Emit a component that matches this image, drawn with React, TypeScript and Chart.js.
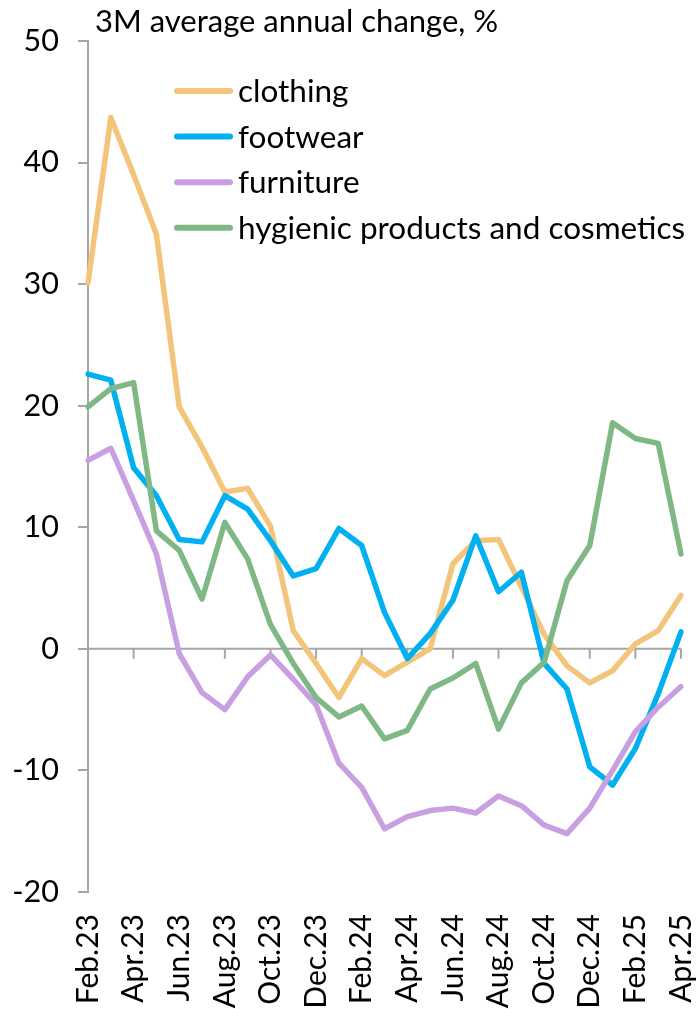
import React, { useEffect, useRef } from 'react';
import { Chart, registerables } from 'chart.js';

Chart.register(...registerables);

const months = [
  'Feb.23', 'Mar.23', 'Apr.23', 'May.23', 'Jun.23', 'Jul.23', 'Aug.23', 'Sep.23', 'Oct.23', 'Nov.23', 'Dec.23',
  'Jan.24', 'Feb.24', 'Mar.24', 'Apr.24', 'May.24', 'Jun.24', 'Jul.24', 'Aug.24', 'Sep.24', 'Oct.24', 'Nov.24', 'Dec.24',
  'Jan.25', 'Feb.25', 'Mar.25', 'Apr.25',
];

const seriesNames = ['clothing', 'footwear', 'furniture', 'hygienic products and cosmetics'];

const clothing = [30.1, 43.7, 39.0, 34.1, 19.9, 16.6, 12.9, 13.2, 10.1, 1.5, -1.2, -4.0, -0.8, -2.2, -1.1, 0.0, 7.0, 8.9, 9.0, 5.1, 1.2, -1.4, -2.8, -1.8, 0.4, 1.5, 4.4];
const footwear = [22.6, 22.1, 14.9, 12.6, 9.0, 8.8, 12.6, 11.5, 8.9, 6.0, 6.6, 9.9, 8.5, 3.0, -0.8, 1.25, 4.0, 9.3, 4.7, 6.3, -1.2, -3.3, -9.7, -11.2, -8.2, -3.7, 1.4];
const furniture = [15.5, 16.5, 12.2, 7.8, -0.4, -3.6, -5.0, -2.3, -0.5, -2.5, -4.6, -9.4, -11.4, -14.8, -13.8, -13.3, -13.1, -13.5, -12.1, -12.9, -14.5, -15.2, -13.1, -10.0, -6.8, -4.8, -3.1];
const hygienic = [19.9, 21.4, 21.9, 9.7, 8.1, 4.1, 10.4, 7.4, 2.0, -1.2, -4.0, -5.6, -4.7, -7.4, -6.7, -3.3, -2.4, -1.2, -6.6, -2.8, -1.1, 5.6, 8.5, 18.6, 17.3, 16.9, 7.8];

const yMin = -20;
const yMax = 50;
const yStep = 10;

const titleText = '3M average annual change, %';

const colors = ['rgb(242,197,122)', 'rgb(0,176,240)', 'rgb(200,160,226)', 'rgb(127,183,133)'];
const FONT = "Lato, 'Open Sans', sans-serif";
const AXIS_GRAY = '#A6A6A6';

export default function App() {
  const ref = useRef<HTMLCanvasElement>(null);

  useEffect(() => {
    document.body.style.margin = '0';
    document.body.style.overflow = 'hidden';
    const values = [clothing, footwear, furniture, hygienic];

    const overlay = {
      id: 'overlay',
      beforeDatasetsDraw(chart: any) {
        const { ctx, chartArea, scales } = chart;
        const y0 = scales.y.getPixelForValue(0);
        ctx.save();
        ctx.strokeStyle = AXIS_GRAY;
        ctx.lineWidth = 2;
        ctx.beginPath();
        ctx.moveTo(chartArea.left, y0);
        ctx.lineTo(chartArea.right, y0);
        for (let i = 0; i < months.length; i += 2) {
          const x = scales.x.getPixelForValue(i);
          ctx.moveTo(x, y0);
          ctx.lineTo(x, y0 + 10);
        }
        ctx.stroke();
        ctx.restore();
      },
      afterDraw(chart: any) {
        const { ctx } = chart;
        ctx.save();
        ctx.fillStyle = '#000';
        ctx.textBaseline = 'middle';
        ctx.textAlign = 'left';
        ctx.font = `31px ${FONT}`;
        ctx.fillText(titleText, 95, 22);
        ctx.font = `31.5px ${FONT}`;
        seriesNames.forEach((name, k) => {
          const y = 91 + k * 45.6;
          ctx.strokeStyle = colors[k];
          ctx.lineWidth = 6;
          ctx.lineCap = 'round';
          ctx.beginPath();
          ctx.moveTo(177, y);
          ctx.lineTo(230, y);
          ctx.stroke();
          ctx.fillText(name, 238, y + 1);
        });
        ctx.restore();
      },
    };

    const chart = new Chart(ref.current!, {
      type: 'line',
      data: {
        labels: months,
        datasets: values.map((v, k) => ({
          label: seriesNames[k],
          data: v,
          borderColor: colors[k],
          backgroundColor: colors[k],
          borderWidth: 5.5,
          pointRadius: 0,
          tension: 0,
          borderJoinStyle: 'round' as const,
          borderCapStyle: 'round' as const,
          order: 3 - k,
        })),
      },
      options: {
        responsive: false,
        animation: false,
        devicePixelRatio: 1,
        layout: { padding: { top: 41, right: 18, left: 0, bottom: 0 } },
        plugins: { legend: { display: false }, tooltip: { enabled: false } },
        scales: {
          x: {
            type: 'category',
            grid: { display: false, drawTicks: false },
            border: { display: false },
            ticks: {
              autoSkip: false,
              minRotation: 90,
              maxRotation: 90,
              padding: 22,
              color: '#000',
              font: { family: FONT, size: 30 },
              callback: (_v: any, i: number) => (i % 2 === 0 ? months[i] : ''),
            },
            afterFit: (s: any) => {
              s.height = 117;
              s.paddingLeft = 0;
              s.paddingRight = 0;
            },
          },
          y: {
            min: yMin,
            max: yMax,
            ticks: { stepSize: yStep, color: '#000', padding: 19, font: { family: FONT, size: 30.5 } },
            grid: { drawOnChartArea: false, color: AXIS_GRAY, lineWidth: 2, tickLength: 10 },
            border: { color: AXIS_GRAY, width: 2 },
            afterFit: (s: any) => {
              s.width = 88;
            },
          },
        },
      },
      plugins: [overlay],
    });
    return () => chart.destroy();
  }, []);

  return <canvas ref={ref} width={699} height={1009} style={{ display: 'block' }} />;
}
